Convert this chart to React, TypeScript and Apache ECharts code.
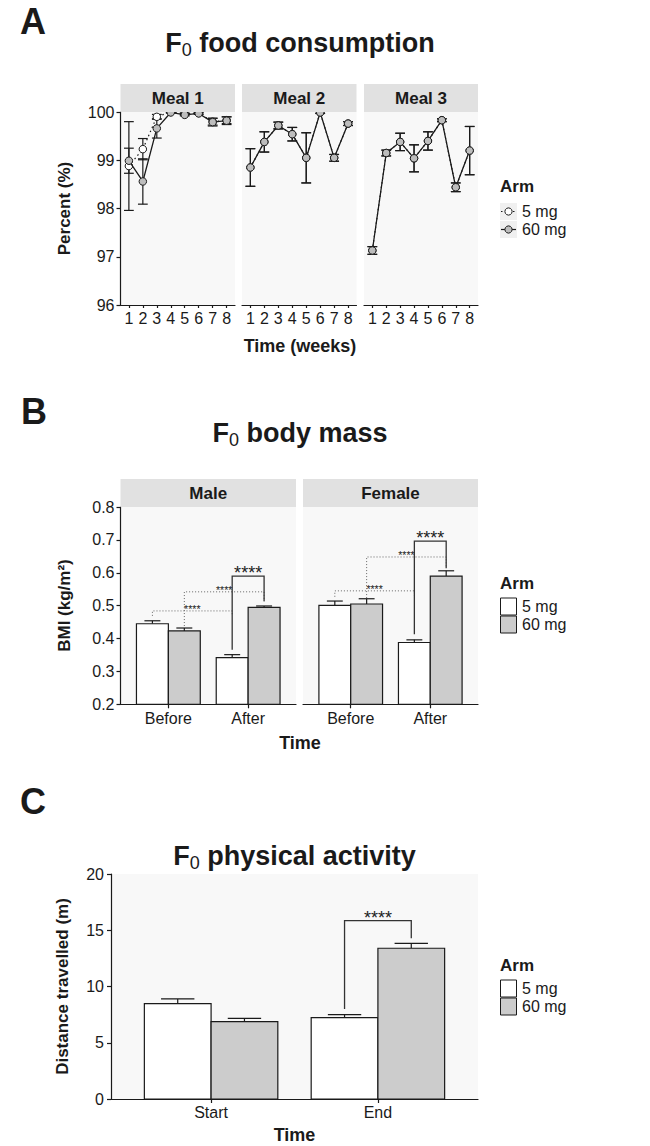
import React, { useEffect, useRef } from "react";
import * as echarts from "echarts";

const FONT = "'Liberation Sans', Arial, Helvetica, sans-serif";
const INK = "#1a1a1a";
const PANEL_BG = "#f8f8f8";
const STRIP_BG = "#e1e1e1";
const WHITE_FILL = "#ffffff";
const GREY_FILL = "#cccccc";
const POINT_GREY = "#bdbdbd";

// ---------- Panel A: F0 food consumption (percent, mean ± SE) ----------
const weeks = [1, 2, 3, 4, 5, 6, 7, 8];
const meals = ["Meal 1", "Meal 2", "Meal 3"];
const arms = ["5 mg", "60 mg"];
const percentRange = [96, 100];

const meal1Mean5mg = [98.88, 99.23, 99.9, 100.0, 99.96, 99.98, 99.8, 99.83];
const meal1Se5mg = [0.92, 0.22, 0.05, 0.01, 0.02, 0.02, 0.07, 0.07];
const meal1Mean60mg = [98.99, 98.56, 99.66, 99.99, 99.94, 99.97, 99.79, 99.82];
const meal1Se60mg = [0.26, 0.47, 0.2, 0.01, 0.02, 0.02, 0.08, 0.08];

const meal2Mean5mg = [98.85, 99.38, 99.72, 99.54, 99.05, 99.99, 99.05, 99.76];
const meal2Se5mg = [0.39, 0.21, 0.07, 0.14, 0.52, 0.02, 0.07, 0.04];
const meal2Mean60mg = [98.85, 99.38, 99.72, 99.54, 99.05, 99.99, 99.05, 99.76];
const meal2Se60mg = [0.39, 0.21, 0.07, 0.14, 0.52, 0.02, 0.07, 0.04];

const meal3Mean5mg = [97.13, 99.15, 99.38, 99.04, 99.4, 99.83, 98.44, 99.2];
const meal3Se5mg = [0.08, 0.06, 0.18, 0.28, 0.19, 0.03, 0.09, 0.5];
const meal3Mean60mg = [97.13, 99.15, 99.38, 99.04, 99.4, 99.83, 98.44, 99.2];
const meal3Se60mg = [0.08, 0.06, 0.18, 0.28, 0.19, 0.03, 0.09, 0.5];

// ---------- Panel B: F0 body mass (BMI, mean + SE) ----------
const bmiTimes = ["Before", "After"];
const bmiSexes = ["Male", "Female"];
const bmiRange = [0.2, 0.8];
const bmiMale5mg = [0.445, 0.342];
const bmiMale5mgSe = [0.009, 0.009];
const bmiMale60mg = [0.423, 0.495];
const bmiMale60mgSe = [0.009, 0.004];
const bmiFemale5mg = [0.501, 0.388];
const bmiFemale5mgSe = [0.013, 0.008];
const bmiFemale60mg = [0.505, 0.59];
const bmiFemale60mgSe = [0.016, 0.016];
// significance brackets: [xStart, xEnd, leftEnd, top, rightEnd, dotted(1)/solid(0)]
const bmiMaleBrackets = [
  [0.8, 1.8, 0.469, 0.484, 0.47, 1],
  [1.2, 2.2, 0.438, 0.542, 0.512, 1],
  [1.8, 2.2, 0.366, 0.59, 0.514, 0],
];
const bmiFemaleBrackets = [
  [0.8, 1.8, 0.527, 0.545, 0.53, 1],
  [1.2, 2.2, 0.523, 0.648, 0.618, 1],
  [1.8, 2.2, 0.413, 0.696, 0.614, 0],
];

// ---------- Panel C: F0 physical activity (distance, mean + SE) ----------
const activityTimes = ["Start", "End"];
const activityRange = [0, 20];
const activity5mg = [8.47, 7.23];
const activity5mgSe = [0.43, 0.27];
const activity60mg = [6.87, 13.4];
const activity60mgSe = [0.3, 0.44];
const activityBrackets = [[1.8, 2.2, 8.0, 15.85, 14.3, 0]];
const SIG_LABEL = "****";

function errRender(capHalf: number) {
  return (_p: any, api: any) => {
    const x = api.value(0);
    const lo = api.value(1);
    const hi = api.value(2);
    const a = api.coord([x - capHalf, hi]);
    const b = api.coord([x + capHalf, lo]);
    const c = api.coord([x, hi]);
    const style = { stroke: INK, lineWidth: 1.2, fill: null };
    return {
      type: "group",
      children: [
        { type: "line", shape: { x1: c[0], y1: a[1], x2: c[0], y2: b[1] }, style },
        { type: "line", shape: { x1: a[0], y1: a[1], x2: b[0], y2: a[1] }, style },
        { type: "line", shape: { x1: a[0], y1: b[1], x2: b[0], y2: b[1] }, style },
      ],
    };
  };
}

function barRender(base: number) {
  return (_p: any, api: any) => {
    const cat = api.value(0);
    const v = api.value(1);
    const se = api.value(2);
    const arm = api.value(3);
    const xc = cat + (arm === 0 ? -0.2 : 0.2);
    const tl = api.coord([xc - 0.2, v]);
    const br = api.coord([xc + 0.2, base]);
    const eL = api.coord([xc - 0.1, v + se]);
    const eR = api.coord([xc + 0.1, v + se]);
    const mid = (tl[0] + br[0]) / 2;
    const s = { stroke: INK, lineWidth: 1.2, fill: null };
    return {
      type: "group",
      children: [
        { type: "line", shape: { x1: mid, y1: tl[1], x2: mid, y2: eL[1] }, style: s },
        { type: "line", shape: { x1: eL[0], y1: eL[1], x2: eR[0], y2: eL[1] }, style: s },
        {
          type: "rect",
          shape: { x: tl[0], y: tl[1], width: br[0] - tl[0], height: br[1] - tl[1] },
          style: { fill: arm === 0 ? WHITE_FILL : GREY_FILL, stroke: INK, lineWidth: 1.2 },
        },
      ],
    };
  };
}

function bracketRender() {
  return (_p: any, api: any) => {
    const x1 = api.value(0);
    const x2 = api.value(1);
    const yl = api.value(2);
    const yt = api.value(3);
    const yr = api.value(4);
    const dotted = api.value(5) === 1;
    const p1 = api.coord([x1, yl]);
    const p2 = api.coord([x1, yt]);
    const p3 = api.coord([x2, yt]);
    const p4 = api.coord([x2, yr]);
    return {
      type: "group",
      children: [
        {
          type: "polyline",
          shape: { points: [p1, p2, p3, p4] },
          style: {
            stroke: dotted ? "#666666" : "#333333",
            lineWidth: dotted ? 1 : 1.3,
            fill: null,
            lineDash: dotted ? [1, 2] : null,
          },
        },
        {
          type: "text",
          x: (p2[0] + p3[0]) / 2,
          y: p2[1] + (dotted ? 4 : 6),
          style: {
            text: SIG_LABEL,
            fontSize: dotted ? 10.5 : 18,
            fontFamily: FONT,
            fill: "#222222",
            align: "center",
            verticalAlign: "bottom",
            textAlign: "center",
            textVerticalAlign: "bottom",
          },
        },
      ],
    };
  };
}

const axisLineStyle = { color: INK, width: 1.2 };
const tickLabel = { fontSize: 16, color: INK, fontFamily: FONT };

function txt(x: number, y: number, text: string, size: number, bold: boolean, align = "center", extra: any = {}) {
  return {
    type: "text",
    x,
    y,
    z: 100,
    style: {
      text,
      fontSize: size,
      fontWeight: bold ? "bold" : "normal",
      fontFamily: FONT,
      fill: INK,
      align,
      verticalAlign: "middle",
      textAlign: align,
      textVerticalAlign: "middle",
    },
    ...extra,
  };
}

function titleText(x: number, y: number, rest: string) {
  return {
    type: "text",
    x,
    y,
    z: 100,
    style: {
      text: `{a|F}{s|0}{a|${rest}}`,
      align: "center",
      verticalAlign: "middle",
      textAlign: "center",
      textVerticalAlign: "middle",
      rich: {
        a: { fontSize: 27, fontWeight: "bold", fontFamily: FONT, fill: INK, lineHeight: 32 },
        s: { fontSize: 18, fontWeight: "normal", fontFamily: FONT, fill: INK, lineHeight: 18, verticalAlign: "bottom" },
      },
    },
  };
}

function strip(x: number, y: number, w: number, h: number, label: string) {
  return [
    { type: "rect", z: 90, shape: { x, y, width: w, height: h }, style: { fill: STRIP_BG } },
    txt(x + w / 2, y + h / 2 + 0.5, label, 17, true),
  ];
}

function boxLegend(y0: number) {
  return [
    txt(500, y0, "Arm", 17, true, "left"),
    { type: "rect", z: 100, shape: { x: 500.5, y: y0 + 15, width: 16, height: 17 }, style: { fill: WHITE_FILL, stroke: INK, lineWidth: 1 } },
    { type: "rect", z: 100, shape: { x: 500.5, y: y0 + 33, width: 16, height: 17 }, style: { fill: GREY_FILL, stroke: INK, lineWidth: 1 } },
    txt(522, y0 + 23.5, arms[0], 16, false, "left"),
    txt(522, y0 + 41.5, arms[1], 16, false, "left"),
  ];
}

export default function App() {
  const ref = useRef<HTMLDivElement>(null);

  useEffect(() => {
    if (!ref.current) return;
    const chart = echarts.init(ref.current, null, { renderer: "svg" });

    const mealMeans5 = [meal1Mean5mg, meal2Mean5mg, meal3Mean5mg];
    const mealSe5 = [meal1Se5mg, meal2Se5mg, meal3Se5mg];
    const mealMeans60 = [meal1Mean60mg, meal2Mean60mg, meal3Mean60mg];
    const mealSe60 = [meal1Se60mg, meal2Se60mg, meal3Se60mg];

    const aLeft = [120.5, 242, 364];
    const aWidth = [114.5, 114.5, 114];
    const aTop = 112;
    const aHeight = 193;

    const bLeft = [120.5, 303];
    const bWidth = [175.5, 175];
    const bTop = 507;
    const bHeight = 197.3;

    const cLeft = 111;
    const cWidth = 367;
    const cTop = 874;
    const cHeight = 225;

    const grids: any[] = [];
    const xAxes: any[] = [];
    const yAxes: any[] = [];
    const series: any[] = [];

    // ----- A -----
    meals.forEach((_m, f) => {
      grids.push({ left: aLeft[f], top: aTop, width: aWidth[f], height: aHeight, show: true, backgroundColor: PANEL_BG, borderWidth: 0 });
      xAxes.push({
        type: "value",
        gridIndex: f,
        min: 0.4,
        max: 8.6,
        axisLine: { show: true, onZero: false, lineStyle: axisLineStyle },
        axisTick: { show: true, customValues: weeks, length: 3, lineStyle: axisLineStyle },
        axisLabel: { ...tickLabel, customValues: weeks, margin: 5 },
        splitLine: { show: false },
      });
      yAxes.push({
        type: "value",
        gridIndex: f,
        min: percentRange[0],
        max: percentRange[1],
        interval: 1,
        axisLine: { show: f === 0, onZero: false, lineStyle: axisLineStyle },
        axisTick: { show: f === 0, length: 4, lineStyle: axisLineStyle },
        axisLabel: { ...tickLabel, show: f === 0, margin: 6 },
        splitLine: { show: false },
      });
      const m5 = mealMeans5[f], s5 = mealSe5[f], m60 = mealMeans60[f], s60 = mealSe60[f];
      series.push({
        type: "custom",
        xAxisIndex: f,
        yAxisIndex: f,
        renderItem: errRender(0.35),
        encode: { x: 0, y: [1, 2] },
        data: weeks.map((w, i) => [w, m5[i] - s5[i], m5[i] + s5[i]]),
        z: 2,
      });
      series.push({
        type: "custom",
        xAxisIndex: f,
        yAxisIndex: f,
        renderItem: errRender(0.35),
        encode: { x: 0, y: [1, 2] },
        data: weeks.map((w, i) => [w, m60[i] - s60[i], m60[i] + s60[i]]),
        z: 2,
      });
      series.push({
        type: "line",
        name: arms[0],
        xAxisIndex: f,
        yAxisIndex: f,
        data: weeks.map((w, i) => [w, m5[i]]),
        symbol: "circle",
        symbolSize: 7.5,
        showAllSymbol: true,
        lineStyle: { color: INK, width: 1.2, type: [1.5, 3] },
        itemStyle: { color: WHITE_FILL, borderColor: INK, borderWidth: 1 },
        z: 3,
      });
      series.push({
        type: "line",
        name: arms[1],
        xAxisIndex: f,
        yAxisIndex: f,
        data: weeks.map((w, i) => [w, m60[i]]),
        symbol: "circle",
        symbolSize: 7.5,
        showAllSymbol: true,
        lineStyle: { color: INK, width: 1.3 },
        itemStyle: { color: POINT_GREY, borderColor: INK, borderWidth: 1 },
        z: 4,
      });
    });

    // ----- B -----
    const bmiData = [
      { m5: bmiMale5mg, s5: bmiMale5mgSe, m60: bmiMale60mg, s60: bmiMale60mgSe, br: bmiMaleBrackets },
      { m5: bmiFemale5mg, s5: bmiFemale5mgSe, m60: bmiFemale60mg, s60: bmiFemale60mgSe, br: bmiFemaleBrackets },
    ];
    const catPos = [1, 2];
    bmiSexes.forEach((_s, k) => {
      const gi = 3 + k;
      grids.push({ left: bLeft[k], top: bTop, width: bWidth[k], height: bHeight, show: true, backgroundColor: PANEL_BG, borderWidth: 0 });
      xAxes.push({
        type: "value",
        gridIndex: gi,
        min: 0.4,
        max: 2.6,
        axisLine: { show: true, onZero: false, lineStyle: axisLineStyle },
        axisTick: { show: true, customValues: catPos, length: 4, lineStyle: axisLineStyle },
        axisLabel: { ...tickLabel, customValues: catPos, margin: 6, formatter: (v: number) => bmiTimes[Math.round(v) - 1] },
        splitLine: { show: false },
      });
      yAxes.push({
        type: "value",
        gridIndex: gi,
        min: bmiRange[0],
        max: bmiRange[1],
        interval: 0.1,
        axisLine: { show: k === 0, onZero: false, lineStyle: axisLineStyle },
        axisTick: { show: k === 0, length: 4, lineStyle: axisLineStyle },
        axisLabel: { ...tickLabel, show: k === 0, margin: 6, formatter: (v: number) => v.toFixed(1) },
        splitLine: { show: false },
      });
      const d = bmiData[k];
      const rows: number[][] = [];
      catPos.forEach((c, i) => {
        rows.push([c, d.m5[i], d.s5[i], 0]);
        rows.push([c, d.m60[i], d.s60[i], 1]);
      });
      series.push({
        type: "custom",
        xAxisIndex: gi,
        yAxisIndex: gi,
        renderItem: barRender(bmiRange[0]),
        encode: { x: 0, y: 1 },
        data: rows,
        z: 2,
      });
      series.push({
        type: "custom",
        xAxisIndex: gi,
        yAxisIndex: gi,
        renderItem: bracketRender(),
        encode: { x: [0, 1], y: [2, 3, 4] },
        data: d.br,
        z: 3,
      });
    });

    // ----- C -----
    grids.push({ left: cLeft, top: cTop, width: cWidth, height: cHeight, show: true, backgroundColor: PANEL_BG, borderWidth: 0 });
    xAxes.push({
      type: "value",
      gridIndex: 5,
      min: 0.4,
      max: 2.6,
      axisLine: { show: true, onZero: false, lineStyle: axisLineStyle },
      axisTick: { show: true, customValues: catPos, length: 4, lineStyle: axisLineStyle },
      axisLabel: { ...tickLabel, customValues: catPos, margin: 5, formatter: (v: number) => activityTimes[Math.round(v) - 1] },
      splitLine: { show: false },
    });
    yAxes.push({
      type: "value",
      gridIndex: 5,
      min: activityRange[0],
      max: activityRange[1],
      interval: 5,
      axisLine: { show: true, onZero: false, lineStyle: axisLineStyle },
      axisTick: { show: true, length: 4, lineStyle: axisLineStyle },
      axisLabel: { ...tickLabel, margin: 7 },
      splitLine: { show: false },
    });
    const actRows: number[][] = [];
    catPos.forEach((c, i) => {
      actRows.push([c, activity5mg[i], activity5mgSe[i], 0]);
      actRows.push([c, activity60mg[i], activity60mgSe[i], 1]);
    });
    series.push({
      type: "custom",
      xAxisIndex: 5,
      yAxisIndex: 5,
      renderItem: barRender(activityRange[0]),
      encode: { x: 0, y: 1 },
      data: actRows,
      z: 2,
    });
    series.push({
      type: "custom",
      xAxisIndex: 5,
      yAxisIndex: 5,
      renderItem: bracketRender(),
      encode: { x: [0, 1], y: [2, 3, 4] },
      data: activityBrackets,
      z: 3,
    });

    const graphics: any[] = [
      // panel letters
      txt(20, 21, "A", 36, true, "left"),
      txt(21, 411, "B", 36, true, "left"),
      txt(20, 801, "C", 36, true, "left"),
      // titles
      titleText(300, 43, " food consumption"),
      titleText(300, 433, " body mass"),
      titleText(294.5, 856, " physical activity"),
      // strips
      ...meals.flatMap((m, f) => strip(aLeft[f], 84, aWidth[f], 28, m)),
      ...bmiSexes.flatMap((s, k) => strip(bLeft[k], 479, bWidth[k], 28, s)),
      // axis titles
      txt(300, 346, "Time (weeks)", 18, true),
      txt(300, 743, "Time", 18, true),
      txt(294.5, 1135, "Time", 18, true),
      txt(64, 208.5, "Percent (%)", 17, true, "center", { rotation: Math.PI / 2 }),
      txt(64, 605.5, "BMI (kg/m²)", 17, true, "center", { rotation: Math.PI / 2 }),
      txt(62.5, 986.5, "Distance travelled (m)", 17, true, "center", { rotation: Math.PI / 2 }),
      // legend A
      txt(500, 186, "Arm", 17, true, "left"),
      { type: "rect", z: 100, shape: { x: 500, y: 203, width: 17, height: 17 }, style: { fill: "#f0f0f0" } },
      { type: "rect", z: 100, shape: { x: 500, y: 221, width: 17, height: 17 }, style: { fill: "#f0f0f0" } },
      { type: "line", z: 101, shape: { x1: 501, y1: 211.5, x2: 516, y2: 211.5 }, style: { stroke: INK, lineWidth: 1.2, lineDash: [1.5, 2.5] } },
      { type: "line", z: 101, shape: { x1: 501, y1: 229.5, x2: 516, y2: 229.5 }, style: { stroke: INK, lineWidth: 1.2 } },
      { type: "circle", z: 102, shape: { cx: 508.5, cy: 211.5, r: 3.6 }, style: { fill: WHITE_FILL, stroke: INK, lineWidth: 1 } },
      { type: "circle", z: 102, shape: { cx: 508.5, cy: 229.5, r: 3.6 }, style: { fill: POINT_GREY, stroke: INK, lineWidth: 1 } },
      txt(522, 211.5, arms[0], 16, false, "left"),
      txt(522, 229.5, arms[1], 16, false, "left"),
      // legends B, C
      ...boxLegend(583),
      ...boxLegend(965),
    ];

    chart.setOption({
      animation: false,
      backgroundColor: "#ffffff",
      textStyle: { fontFamily: FONT },
      grid: grids,
      xAxis: xAxes,
      yAxis: yAxes,
      series,
      graphic: { elements: graphics },
    });

    return () => chart.dispose();
  }, []);

  return (
    <div
      ref={ref}
      style={{ position: "absolute", left: 0, top: 0, width: 650, height: 1146, background: "#fff" }}
    />
  );
}
